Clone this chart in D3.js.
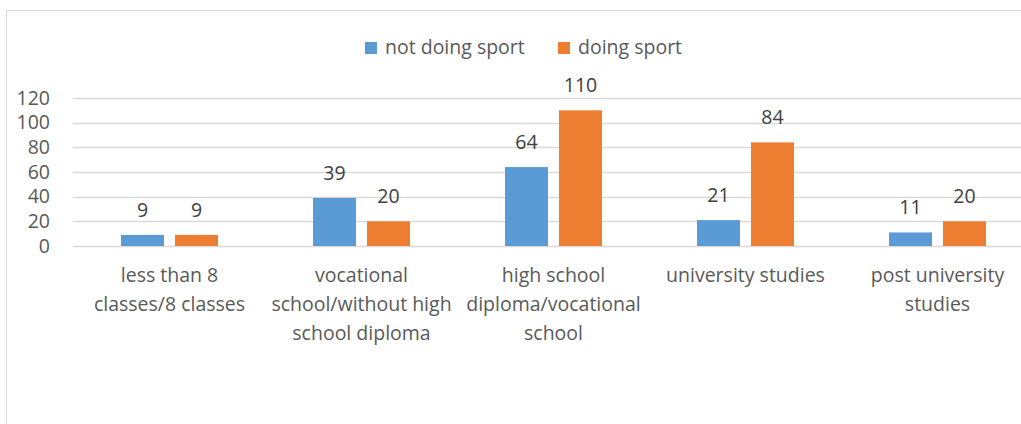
<!DOCTYPE html>
<html>
<head>
<meta charset="utf-8">
<script src="https://cdn.jsdelivr.net/npm/d3@7"></script>
<style>
  body { margin: 0; background: #fff; }
  svg { display: block; font-family: "Open Sans", "Liberation Sans", sans-serif; }
</style>
</head>
<body>
<svg width="1021" height="424"></svg>
<script>
const categories = [
    ["less than 8", "classes/8 classes"],
    ["vocational", "school/without high", "school diploma"],
    ["high school", "diploma/vocational", "school"],
    ["university studies"],
    ["post university", "studies"]
];
const seriesNames = ["not doing sport", "doing sport"];
const notDoingSport = [9, 39, 64, 21, 11];
const doingSport = [9, 20, 110, 84, 20];
const yTicks = [0, 20, 40, 60, 80, 100, 120];

function drawChart() {
    const svg = d3.select("svg");
    const colors = d3.scaleOrdinal().domain(seriesNames).range(["#5B9BD5", "#ED7D31"]);
    const textColor = "#595959";
    const fontSize = "19.5px";

    // chart frame (runs past the right / bottom edge)
    svg.append("rect")
        .attr("x", 6.5).attr("y", 10.5)
        .attr("width", 1100).attr("height", 500)
        .attr("fill", "none")
        .attr("stroke", "#d9d9d9");

    const keys = categories.map((c, i) => i);
    const x = d3.scaleBand().domain(keys).range([73.5, 1033.5]);
    const xInner = d3.scaleBand().domain(seriesNames).range([-48.5, 48.5]).paddingInner(0.2037);
    const y = d3.scaleLinear().domain([0, 120]).range([246, 98]);

    // gridlines
    svg.append("g")
        .selectAll("line")
        .data(yTicks)
        .enter().append("line")
        .attr("x1", 73).attr("x2", 1033)
        .attr("y1", d => Math.round(y(d)) + 0.5)
        .attr("y2", d => Math.round(y(d)) + 0.5)
        .attr("stroke", "#d9d9d9")
        .attr("stroke-width", 1.3);

    // y axis labels
    svg.append("g")
        .selectAll("text")
        .data(yTicks)
        .enter().append("text")
        .attr("x", 50)
        .attr("y", d => y(d))
        .attr("dy", "0.35em")
        .attr("text-anchor", "end")
        .style("font-size", fontSize)
        .style("fill", textColor)
        .text(d => d);

    const rows = keys.map(i => [
        { s: seriesNames[0], v: notDoingSport[i], c: i },
        { s: seriesNames[1], v: doingSport[i], c: i }
    ]).flat();

    // bars
    svg.append("g")
        .selectAll("rect")
        .data(rows)
        .enter().append("rect")
        .attr("x", d => x(d.c) + x.bandwidth() / 2 + xInner(d.s))
        .attr("y", d => y(d.v))
        .attr("width", xInner.bandwidth())
        .attr("height", d => y(0) - y(d.v))
        .attr("fill", d => colors(d.s));

    // value labels
    svg.append("g")
        .selectAll("text")
        .data(rows)
        .enter().append("text")
        .attr("x", d => x(d.c) + x.bandwidth() / 2 + xInner(d.s) + xInner.bandwidth() / 2)
        .attr("y", d => y(d.v) - 18)
        .attr("text-anchor", "middle")
        .style("font-size", fontSize)
        .style("fill", "#404040")
        .text(d => d.v);

    // category labels
    const catG = svg.append("g")
        .selectAll("text")
        .data(keys)
        .enter().append("text")
        .attr("text-anchor", "middle")
        .style("font-size", fontSize)
        .style("fill", textColor);
    catG.each(function (i) {
        const t = d3.select(this);
        categories[i].forEach((line, j) => {
            t.append("tspan")
                .attr("x", x(i) + x.bandwidth() / 2)
                .attr("y", 282 + j * 29)
                .text(line);
        });
    });

    // legend
    const legendX = [365, 558];
    const legend = svg.selectAll(".legend")
        .data(seriesNames)
        .enter().append("g")
        .attr("class", "legend")
        .attr("transform", (d, i) => `translate(${legendX[i]}, 42)`);
    legend.append("rect")
        .attr("width", 12).attr("height", 12)
        .attr("fill", d => colors(d));
    legend.append("text")
        .attr("x", 20).attr("y", 12)
        .style("font-size", fontSize)
        .style("fill", textColor)
        .text(d => d);
}

window.addEventListener("load", drawChart);
</script>
</body>
</html>
